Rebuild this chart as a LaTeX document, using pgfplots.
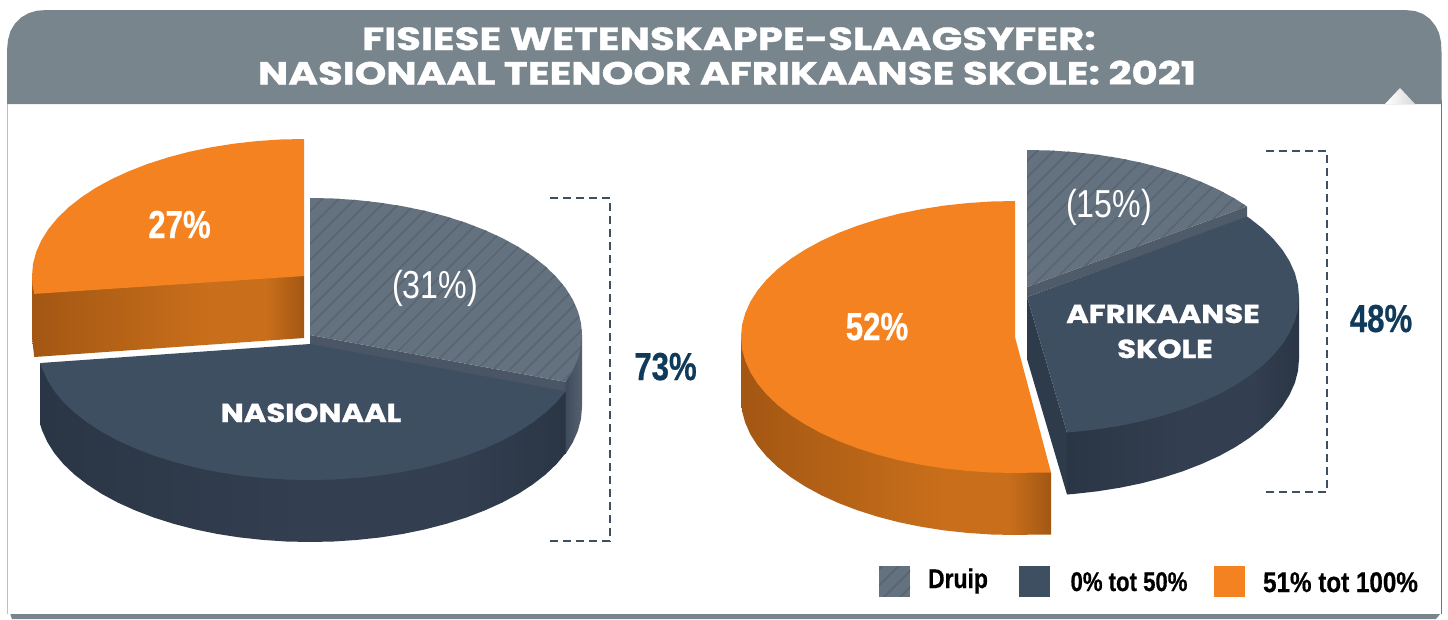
\documentclass[border=0pt]{standalone}
\usepackage{pgfplots}
\pgfplotsset{compat=1.18}
\usepackage{fontspec}
\usetikzlibrary{patterns.meta}
\tikzset{lab/.style={anchor=base, inner sep=0pt}}
\setmainfont{Liberation Sans}
\newfontfamily\titlef{Poppins}[FakeStretch=1.26,FakeBold=1.2]
\newfontfamily\labelf{Poppins}[FakeStretch=1.18,FakeBold=1.2]
\newfontfamily\condf{Liberation Sans}[FakeStretch=0.80,FakeBold=0.6]
\newfontfamily\condl{Liberation Sans}[FakeStretch=0.825]
\newfontfamily\lega{Liberation Sans}[FakeStretch=0.85,FakeBold=0.5]
\newfontfamily\legb{Liberation Sans}[FakeStretch=0.82,FakeBold=0.5]
\definecolor{band}{HTML}{78858D}
\definecolor{hatchbase}{HTML}{64717F}
\definecolor{hatchline}{HTML}{58646F}
\definecolor{navytop}{HTML}{3F4F62}
\definecolor{orangetop}{HTML}{F58220}
\definecolor{numblue}{HTML}{0F3A5A}
\definecolor{strip}{HTML}{4A5565}
\definecolor{stripb}{HTML}{505B69}
\definecolor{innerw}{HTML}{2E3B4B}
\definecolor{orD}{HTML}{A35713}
\definecolor{orL}{HTML}{C96F1B}
\definecolor{nvD}{HTML}{2A3645}
\definecolor{nvL}{HTML}{333F50}
\definecolor{grD}{HTML}{3F4B5B}
\definecolor{grL}{HTML}{566170}
\pgfdeclarehorizontalshading{orwall}{100bp}{color(0bp)=(orD); color(25bp)=(orD); color(58bp)=(orL); color(68bp)=(orL); color(75bp)=(orD); color(100bp)=(orD)}
\pgfdeclarehorizontalshading{nvwall}{100bp}{color(0bp)=(nvD); color(25bp)=(nvD); color(50bp)=(nvL); color(65bp)=(nvL); color(75bp)=(nvD); color(100bp)=(nvD)}
\pgfdeclarehorizontalshading{grwall}{100bp}{color(0bp)=(grD); color(25bp)=(grD); color(75bp)=(grL); color(100bp)=(grL)}
\begin{document}
\begin{tikzpicture}
\begin{axis}[
  scale only axis, width=1448pt, height=619pt,
  xmin=0, xmax=1448, ymin=0, ymax=619, y dir=reverse,
  hide axis, clip=false,
  pie/.style={sharp plot, draw=none, no marks},
  hatch/.style={pie, pattern={Lines[angle=45,distance=11.5pt,line width=1.5pt]}, pattern color=hatchline},
  brk/.style={sharp plot, no marks, draw=navytop, line width=2.3pt, dash pattern=on 8pt off 5pt},
]
% page frame (keeps the picture at exactly 1448 x 619)
\addplot[pie,fill=white] coordinates {(0,0)(1448,0)(1448,619)(0,619)};
% card
\addplot[pie,fill=band] coordinates {(10,613)(1441,613)(1436,619)(12,619)};
\addplot[pie,fill=white] coordinates {(7.5,100)(7.5,614)(1441,614)(1441,100)};
\addplot[sharp plot,no marks,draw=black!25,line width=1.2pt] coordinates {(7.5,100)(7.5,614)};
\addplot[sharp plot,no marks,draw=black!55,line width=1.2pt] coordinates {(1441.5,100)(1441.5,614)};
\addplot[pie,fill=band] coordinates {(7,104)(7,50)(8,40)(10.5,31)(15,23.5)(21,17.5)(29,13)(37,10.7)(47,10)(1405,10)(1415,11)(1423,14)(1430,19)(1435.5,26)(1439,33)(1441,42)(1441.5,52)(1441.5,104)};
\addplot[pie,left color=white,right color=black!15] coordinates {(1385,104)(1400,88)(1415,104)};
% ---- left pie
\addplot[pie,shading=grwall] coordinates {(582,335)(582,407)(581,418.9)(577.9,430.8)(572.7,442.5)(565.6,453.9)(565.6,381.9)};
\addplot[pie,shading=nvwall] coordinates {(565.6,391)(565.6,453.2)(556.5,464.1)(545.6,474.5)(532.8,484.4)(518.4,493.8)(502.3,502.5)(484.8,510.4)(466,517.6)(446,523.9)(424.9,529.4)(403,533.9)(380.4,537.4)(357.2,539.9)(333.7,541.5)(310,542)(286.3,541.5)(262.8,539.9)(239.6,537.4)(217,533.9)(195.1,529.4)(174,523.9)(154,517.6)(135.2,510.4)(117.7,502.5)(101.6,493.8)(87.2,484.4)(74.4,474.5)(63.5,464.1)(54.4,453.2)(47.3,441.9)(42.1,430.4)(40.4,425)(40.4,363)};
\addplot[pie,fill=strip] coordinates {(310,335)(565.6,381.9)(565.6,392)(310,345)};
\addplot[pie,fill=navytop] coordinates {(565.6,391.2)(556.5,402.1)(545.6,412.5)(532.8,422.4)(518.4,431.8)(502.3,440.5)(484.8,448.4)(466,455.6)(446,461.9)(424.9,467.4)(403,471.9)(380.4,475.4)(357.2,477.9)(333.7,479.5)(310,480)(286.3,479.5)(262.8,477.9)(239.6,475.4)(217,471.9)(195.1,467.4)(174,461.9)(154,455.6)(135.2,448.4)(117.7,440.5)(101.6,431.8)(87.2,422.4)(74.4,412.5)(63.5,402.1)(54.4,391.2)(47.3,379.9)(42.1,368.4)(40.4,363)(310,344)};
\addplot[pie,fill=hatchbase] coordinates {(310,198)(333.7,198.5)(357.2,200.1)(380.4,202.7)(403,206.3)(424.9,210.8)(446,216.4)(466,222.8)(484.8,230.1)(502.3,238.1)(518.4,246.9)(532.8,256.4)(545.6,266.5)(556.5,277.1)(565.6,288.1)(572.7,299.5)(577.9,311.2)(581,323.1)(582,335)(581,346.9)(577.9,358.8)(572.7,370.5)(565.6,381.9)(310,335)};
\addplot[hatch] coordinates {(310,198)(333.7,198.5)(357.2,200.1)(380.4,202.7)(403,206.3)(424.9,210.8)(446,216.4)(466,222.8)(484.8,230.1)(502.3,238.1)(518.4,246.9)(532.8,256.4)(545.6,266.5)(556.5,277.1)(565.6,288.1)(572.7,299.5)(577.9,311.2)(581,323.1)(582,335)(581,346.9)(577.9,358.8)(572.7,370.5)(565.6,381.9)(310,335)};
\addplot[pie,shading=orwall] coordinates {(304,276)(32,276)(32,338)(34.3,357)(304,338)};
\addplot[pie,fill=orangetop] coordinates {(304,139)(280.3,139.5)(256.8,141.1)(233.6,143.7)(211,147.3)(189.1,151.8)(168,157.4)(148,163.8)(129.2,171.1)(111.7,179.1)(95.6,187.9)(81.2,197.4)(68.4,207.5)(57.5,218.1)(48.4,229.1)(41.3,240.5)(36.1,252.2)(33,264.1)(32,276)(32.5,285)(34.3,293.9)(304,276)};
% ---- right pie
\addplot[pie,shading=nvwall] coordinates {(1299,297)(1299,359)(1298,370.9)(1294.9,382.8)(1289.7,394.5)(1282.6,405.9)(1273.5,416.9)(1262.6,427.5)(1249.8,437.6)(1235.4,447.1)(1219.3,455.9)(1201.8,463.9)(1183,471.2)(1163,477.6)(1141.9,483.2)(1120,487.7)(1097.4,491.3)(1074.2,493.9)(1067,494.5)(1067,432.5)};
\addplot[pie,fill=innerw] coordinates {(1027,297)(1067,432.5)(1067,494.5)(1027,359)};
\addplot[pie,fill=stripb] coordinates {(1027,287)(1247,206.5)(1247,217)(1027,297)};
\addplot[pie,fill=navytop] coordinates {(1247,216.5)(1249.8,218.4)(1262.6,228.5)(1273.5,239.1)(1282.6,250.1)(1289.7,261.5)(1294.9,273.2)(1298,285.1)(1299,297)(1298,308.9)(1294.9,320.8)(1289.7,332.5)(1282.6,343.9)(1273.5,354.9)(1262.6,365.5)(1249.8,375.6)(1235.4,385.1)(1219.3,393.9)(1201.8,401.9)(1183,409.2)(1163,415.6)(1141.9,421.2)(1120,425.7)(1097.4,429.3)(1074.2,431.9)(1067,432.5)(1027,297)};
\addplot[pie,fill=hatchbase] coordinates {(1027,150)(1050.7,150.5)(1074.2,152.1)(1097.4,154.7)(1120,158.3)(1141.9,162.8)(1163,168.4)(1183,174.8)(1201.8,182.1)(1219.3,190.1)(1235.4,198.9)(1247,206.5)(1027,287)};
\addplot[hatch] coordinates {(1027,150)(1050.7,150.5)(1074.2,152.1)(1097.4,154.7)(1120,158.3)(1141.9,162.8)(1163,168.4)(1183,174.8)(1201.8,182.1)(1219.3,190.1)(1235.4,198.9)(1247,206.5)(1027,287)};
\addplot[pie,shading=orwall] coordinates {(741,337)(741,399)(742,410.9)(745.2,422.6)(750.3,434.2)(757.5,445.5)(766.7,456.5)(777.7,467)(790.5,477)(805.1,486.4)(821.3,495.2)(838.9,503.2)(857.8,510.4)(878,516.8)(899.2,522.3)(921.3,526.8)(944.1,530.4)(967.4,532.9)(991.1,534.5)(1015,535)(1038.9,534.5)(1051,534.5)(1051,472.5)};
\addplot[pie,fill=orangetop] coordinates {(1015,201)(991.1,201.5)(967.4,203.1)(944.1,205.6)(921.3,209.2)(899.2,213.7)(878,219.2)(857.8,225.6)(838.9,232.8)(821.3,240.8)(805.1,249.6)(790.5,259)(777.7,269)(766.7,279.5)(757.5,290.5)(750.3,301.8)(745.2,313.4)(742,325.1)(741,337)(742,348.9)(745.2,360.6)(750.3,372.2)(757.5,383.5)(766.7,394.5)(777.7,405)(790.5,415)(805.1,424.4)(821.3,433.2)(838.9,441.2)(857.8,448.4)(878,454.8)(899.2,460.3)(921.3,464.8)(944.1,468.4)(967.4,470.9)(991.1,472.5)(1015,473)(1038.9,472.5)(1051,472.5)(1015,337)};
% brackets
\addplot[brk] coordinates {(550,198)(610,198)(610,541)(550,541)};
\addplot[brk] coordinates {(1266,151)(1327,151)(1327,492)(1266,492)};
% legend
\addplot[pie,fill=hatchbase] coordinates {(879,566)(910,566)(910,597)(879,597)};
\addplot[hatch] coordinates {(879,566)(910,566)(910,597)(879,597)};
\addplot[pie,fill=white] coordinates {(875,597.2)(915,597.2)(915,603)(875,603)};
\addplot[pie,fill=navytop] coordinates {(1019,566)(1050,566)(1050,597)(1019,597)};
\addplot[pie,fill=orangetop] coordinates {(1214,566)(1245,566)(1245,597)(1214,597)};
% text
\node[lab,white,font=\titlef\bfseries\fontsize{32}{36}\selectfont] at (axis cs:729,50) {FISIESE WETENSKAPPE-SLAAGSYFER:};
\node[lab,white,font=\titlef\bfseries\fontsize{32}{36}\selectfont] at (axis cs:727,84.5) {NASIONAAL TEENOOR AFRIKAANSE SKOLE: 2021};
\node[lab,white,font=\labelf\bfseries\fontsize{26}{28}\selectfont] at (axis cs:311,422) {NASIONAAL};
\node[lab,white,font=\labelf\bfseries\fontsize{26}{28}\selectfont] at (axis cs:1163,323) {AFRIKAANSE};
\node[lab,white,font=\labelf\bfseries\fontsize{26}{28}\selectfont] at (axis cs:1165,358) {SKOLE};
\node[lab,white,font=\condf\bfseries\fontsize{39}{40}\selectfont] at (axis cs:179.5,238) {27\%};
\node[lab,white,font=\condf\bfseries\fontsize{39}{40}\selectfont] at (axis cs:877,340) {52\%};
\node[lab,white,font=\condl\fontsize{39}{40}\selectfont] at (axis cs:435,298) {(31\%)};
\node[lab,white,font=\condl\fontsize{39}{40}\selectfont] at (axis cs:1109,217) {(15\%)};
\node[lab,numblue,font=\condf\bfseries\fontsize{39}{40}\selectfont] at (axis cs:665.5,380) {73\%};
\node[lab,numblue,font=\condf\bfseries\fontsize{39}{40}\selectfont] at (axis cs:1381,332) {48\%};
\node[lab,black,font=\lega\bfseries\fontsize{27}{30}\selectfont] at (axis cs:958,588) {Druip};
\node[lab,black,font=\legb\bfseries\fontsize{27}{30}\selectfont] at (axis cs:1129,591) {0\% tot 50\%};
\node[lab,black,font=\lega\bfseries\fontsize{28.5}{30}\selectfont] at (axis cs:1340.5,592) {51\% tot 100\%};
\end{axis}
\end{tikzpicture}
\end{document}
